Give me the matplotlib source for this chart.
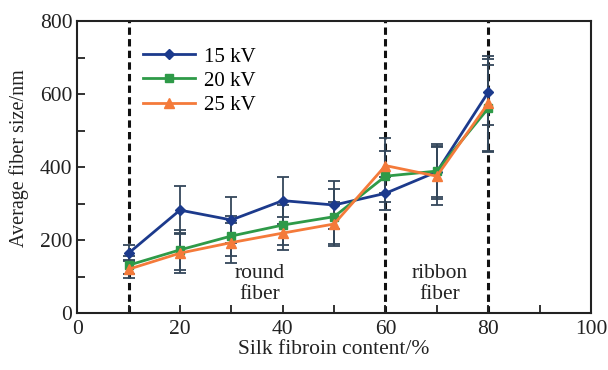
import matplotlib.pyplot as plt
from matplotlib.ticker import MultipleLocator

plt.rcParams['font.family'] = ['Liberation Serif', 'DejaVu Serif']

content = [10, 20, 30, 40, 50, 60, 70, 80]
size_15kv = [164, 282, 255, 308, 296, 328, 387, 605]
size_20kv = [131, 173, 211, 241, 264, 375, 389, 561]
size_25kv = [120, 164, 193, 219, 244, 404, 375, 575]
err_15kv = [22, 66, 63, 65, 65, 45, 75, 90]
err_20kv = [25, 55, 55, 55, 75, 70, 70, 120]
err_25kv = [25, 55, 55, 45, 60, 75, 80, 130]
boundaries = [10, 60, 80]

fig = plt.figure(figsize=(6.08, 3.7), dpi=100)
ax = fig.add_axes([0.127, 0.154, 0.845, 0.789])

# dashed lines separating the fiber shape regions
for b in boundaries:
    ax.axvline(b, color='#111111', lw=2.2, ls=(0, (2.4, 1.4)), zorder=1)

series = [
    (size_15kv, err_15kv, '#1c3a8c', 'D', '15 kV', 5),
    (size_20kv, err_20kv, '#2e9a48', 's', '20 kV', 6),
    (size_25kv, err_25kv, '#f47a3a', '^', '25 kV', 7),
]
handles = []
for vals, errs, col, mk, lab, ms in series:
    eb = ax.errorbar(content, vals, yerr=errs, color=col, marker=mk, ms=ms, lw=2,
                     ecolor='#34475a', elinewidth=1.3, capsize=4, capthick=1.3,
                     label=lab, zorder=3)
    handles.append(eb[0])

ax.text(35.6, 80, 'round\nfiber', ha='center', va='center', fontsize=15.5,
        color='#222222', linespacing=1.12)
ax.text(70.6, 80, 'ribbon\nfiber', ha='center', va='center', fontsize=15.5,
        color='#222222', linespacing=1.12)

ax.set_xlim(0, 100)
ax.set_ylim(0, 800)
ax.xaxis.set_major_locator(MultipleLocator(20))
ax.xaxis.set_minor_locator(MultipleLocator(10))
ax.yaxis.set_major_locator(MultipleLocator(200))
ax.yaxis.set_minor_locator(MultipleLocator(100))
ax.tick_params(which='both', direction='in', top=False, right=False,
               labelsize=15.5, colors='#222222')
ax.tick_params(axis='x', pad=5)
ax.tick_params(which='major', length=6, width=1.3)
ax.tick_params(which='minor', length=6, width=1.3)
for s in ax.spines.values():
    s.set_linewidth(1.5)
    s.set_color('#222222')

ax.set_xlabel('Silk fibroin content/%', fontsize=15.5, color='#222222', labelpad=1)
ax.set_ylabel('Average fiber size/nm', fontsize=14.5, color='#222222')
ax.yaxis.set_label_coords(-0.094, 0.53)

ax.legend(handles=handles, labels=['15 kV', '20 kV', '25 kV'], loc='upper left',
          bbox_to_anchor=(0.112, 0.94), frameon=False, fontsize=15,
          handlelength=2.5, handletextpad=0.4, labelspacing=0.22, borderaxespad=0)

fig.savefig('out.png', dpi=100)
